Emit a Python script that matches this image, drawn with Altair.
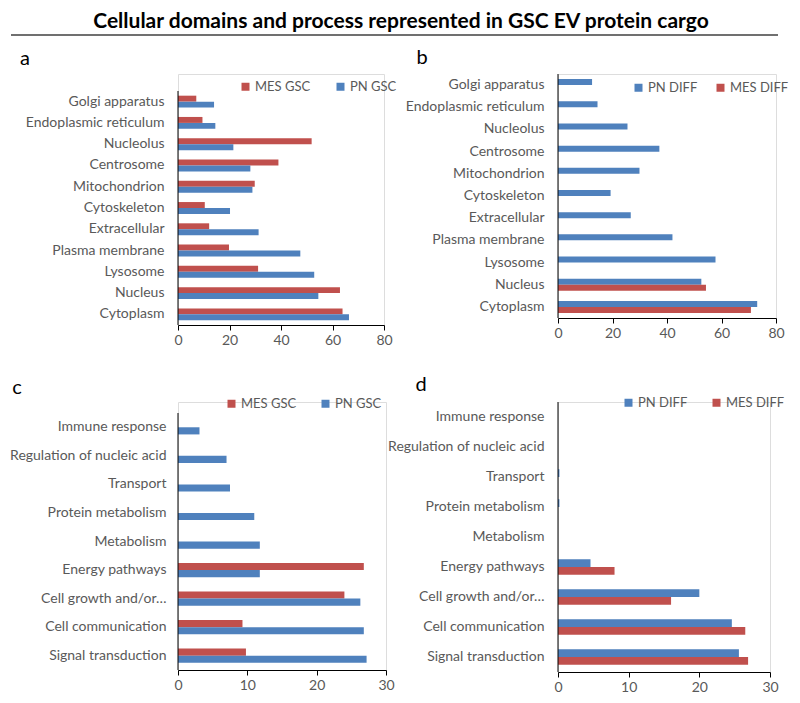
import altair as alt
import pandas as pd

RED = "#C0504D"
BLUE = "#4F81BD"
GRAY = "#595959"
FONT = "Lato"

title_text = "Cellular domains and process represented in GSC EV protein cargo"

loc_categories = ["Golgi apparatus", "Endoplasmic reticulum", "Nucleolus", "Centrosome",
                  "Mitochondrion", "Cytoskeleton", "Extracellular", "Plasma membrane",
                  "Lysosome", "Nucleus", "Cytoplasm"]
a_mes_gsc = [7.1, 9.5, 51.9, 39.0, 29.8, 10.4, 12.1, 19.8, 31.1, 62.9, 63.9]
a_pn_gsc = [14.0, 14.5, 21.5, 28.1, 28.9, 20.2, 31.3, 47.5, 52.9, 54.5, 66.4]
b_pn_diff = [12.5, 14.5, 25.5, 37.2, 29.9, 19.3, 26.7, 42.0, 57.8, 52.6, 73.1]
b_mes_diff = [0, 0, 0, 0, 0, 0, 0, 0, 0, 54.3, 70.8]

proc_categories = ["Immune response", "Regulation of nucleic acid", "Transport",
                   "Protein metabolism", "Metabolism", "Energy pathways",
                   "Cell growth and/or…", "Cell communication", "Signal transduction"]
c_mes_gsc = [0, 0, 0, 0, 0, 26.8, 24.0, 9.3, 9.8]
c_pn_gsc = [3.1, 7.0, 7.5, 11.0, 11.8, 11.8, 26.3, 26.8, 27.2]
d_pn_diff = [0, 0, 0.2, 0.2, 0, 4.6, 20.0, 24.6, 25.6]
d_mes_diff = [0, 0, 0, 0, 0, 8.0, 16.0, 26.5, 26.9]

x_ticks_loc = [0, 20, 40, 60, 80]
x_ticks_proc = [0, 10, 20, 30]


def panel(cats, series, ticks, width, height, top, pad, letter, letter_xy, leg_xy, leg_gap,
          label_pad=14, header=False):
    rows = []
    for name, vals, _ in series:
        for c, v in zip(cats, vals):
            rows.append({"category": c, "series": name, "value": v})
    df = pd.DataFrame(rows)
    names = [s[0] for s in series]
    colors = [s[2] for s in series]
    n = len(cats)
    step = (height - top) / n
    outer_total = pad * step + top
    po = outer_total / (2 * step)
    al = (pad * step / 2 + top) / outer_total
    bars = alt.Chart(df).mark_bar().encode(
        y=alt.Y("category:N", sort=cats, title=None,
                scale=alt.Scale(paddingInner=pad, paddingOuter=po, align=al),
                axis=alt.Axis(ticks=False, domain=False, labelPadding=label_pad,
                              labelFontSize=14, labelColor=GRAY, labelFont=FONT)),
        yOffset=alt.YOffset("series:N", sort=names,
                            scale=alt.Scale(paddingInner=0, paddingOuter=0)),
        x=alt.X("value:Q", title=None,
                scale=alt.Scale(domain=[ticks[0], ticks[-1]], nice=False),
                axis=alt.Axis(values=ticks, grid=False, tickSize=5, tickColor="black",
                              domainColor="black", labelFontSize=14, labelColor=GRAY,
                              labelFont=FONT, labelPadding=3, format="d",
                              labelFlush=False, labelOverlap=False)),
        color=alt.Color("series:N", sort=names,
                        scale=alt.Scale(domain=names, range=colors),
                        legend=alt.Legend(orient="none", legendX=leg_xy[0], legendY=leg_xy[1],
                                          direction="horizontal", title=None,
                                          symbolType="square", symbolSize=64,
                                          symbolStrokeWidth=0, labelFontSize=13,
                                          labelColor=GRAY, labelFont=FONT,
                                          labelOffset=3, columnPadding=leg_gap, padding=0)),
    )
    ldf = pd.DataFrame({"t": [letter]})
    lab = alt.Chart(ldf).mark_text(fontSize=20, font=FONT, color="black",
                                   align="center", baseline="middle").encode(
        text="t:N", x=alt.value(letter_xy[0]), y=alt.value(letter_xy[1]))
    yline = alt.Chart(ldf).mark_rule(color="black", strokeWidth=1).encode(
        x=alt.value(0), y=alt.value(top), y2=alt.value(height))
    layers = [bars, yline, lab]
    if header:
        hdf = pd.DataFrame({"t": [title_text]})
        layers.append(alt.Chart(hdf).mark_rule(color="white", strokeWidth=1).encode(
            x=alt.value(-168), y=alt.value(-65), y2=alt.value(-64)))
        layers.append(alt.Chart(hdf).mark_text(
            fontSize=21, font=FONT, fontWeight="bold", color="black",
            align="center", baseline="middle").encode(
            text="t:N", x=alt.value(223), y=alt.value(-52)))
        layers.append(alt.Chart(hdf).mark_rule(color="#404040", strokeWidth=1.5).encode(
            x=alt.value(-167), x2=alt.value(600), y=alt.value(-39)))
    return alt.layer(*layers).properties(width=width, height=height)


pa = panel(loc_categories, [("MES GSC", a_mes_gsc, RED), ("PN GSC", a_pn_gsc, BLUE)],
           x_ticks_loc, 206, 251, 17, 0.44, "a", (-153, -15), (61, 6), 23, header=True)
pb = panel(loc_categories, [("PN DIFF", b_pn_diff, BLUE), ("MES DIFF", b_mes_diff, RED)],
           x_ticks_loc, 218, 244, 0, 0.46, "b", (-136, -16), (74, 7), 16)
pc = panel(proc_categories, [("MES GSC", c_mes_gsc, RED), ("PN GSC", c_pn_gsc, BLUE)],
           x_ticks_proc, 208, 268, 11, 0.5, "c", (-161, -14), (47, -5), 22, label_pad=12)
pd_ = panel(proc_categories, [("PN DIFF", d_pn_diff, BLUE), ("MES DIFF", d_mes_diff, RED)],
            x_ticks_proc, 212, 270, 0, 0.48, "d", (-137, -17), (64, -6), 22)

chart = alt.concat(
    pa, pb, pc, pd_, columns=2, spacing={"row": 77, "column": 172},
    bounds="flush", align="each"
).resolve_scale(
    color="independent", x="independent", y="independent", yOffset="independent"
).properties(
    padding={"left": 0, "top": 0, "right": 0, "bottom": 0},
    autosize=alt.AutoSizeParams(type="pad"),
).configure_view(stroke=None).configure(font=FONT)

chart.save("out.html", embed_options={"renderer": "svg", "actions": False})
